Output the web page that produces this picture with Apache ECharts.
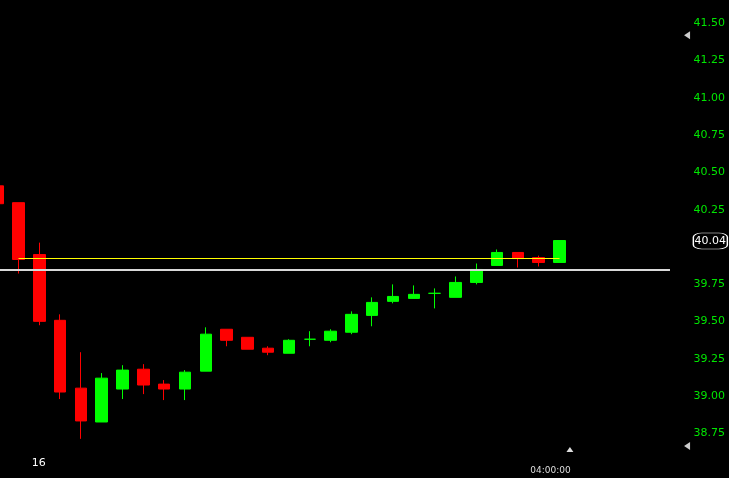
<!DOCTYPE html>
<html>
<head>
<meta charset="utf-8">
<script src="https://cdn.jsdelivr.net/npm/echarts@6/dist/echarts.min.js"></script>
<style>
html,body{margin:0;padding:0;background:#000;}
#c{width:729px;height:478px;}
</style>
</head>
<body>
<div id="c"></div>
<script>
// ---- data ----
const opens  = [40.410, 40.297, 39.949, 39.508, 39.053, 38.826, 39.047, 39.180, 39.080, 39.047,
                39.167, 39.448, 39.394, 39.321, 39.287, 39.381, 39.374, 39.428, 39.541, 39.635,
                39.655, 39.689, 39.662, 39.762, 39.876, 39.963, 39.929, 39.896];
const closes = [40.290, 39.916, 39.501, 39.027, 38.833, 39.120, 39.174, 39.074, 39.047, 39.160,
                39.415, 39.374, 39.314, 39.294, 39.374, 39.381, 39.435, 39.548, 39.628, 39.668,
                39.682, 39.689, 39.762, 39.849, 39.963, 39.922, 39.896, 40.043];
const lows   = [40.290, 39.822, 39.475, 38.980, 38.713, 38.826, 38.980, 39.013, 38.973, 38.973,
                39.167, 39.334, 39.314, 39.274, 39.287, 39.334, 39.361, 39.415, 39.468, 39.622,
                39.655, 39.588, 39.662, 39.749, 39.876, 39.862, 39.869, 39.896];
const highs  = [40.410, 40.297, 40.029, 39.548, 39.294, 39.154, 39.207, 39.214, 39.107, 39.174,
                39.461, 39.448, 39.394, 39.334, 39.381, 39.435, 39.448, 39.568, 39.662, 39.749,
                39.742, 39.722, 39.802, 39.889, 39.983, 39.963, 39.942, 40.043];
const priceTicks = [41.50, 41.25, 41.00, 40.75, 40.50, 40.25, 39.75, 39.50, 39.25, 39.00, 38.75];
const lastPrice = 40.04;
const bidLine = 39.849;      // white horizontal line
const avgLine = 39.923;      // yellow line
const avgFrom = 1, avgTo = 27;
const dayLabel = '16';
const timeLabel = '04:00:00';

const candles = opens.map((o, i) => [i, o, closes[i], lows[i], highs[i]]);

const xMin = 0.11, xMax = 35.146, plotEnd = 32.31;

const chart = echarts.init(document.getElementById('c'), null, {renderer: 'canvas'});
const FONT = 'DejaVu Sans';

chart.setOption({
  backgroundColor: '#000',
  animation: false,
  grid: {left: 0, right: 0, top: 0, bottom: 7.4},
  xAxis: {
    type: 'value', min: xMin, max: xMax,
    axisLine: {show: false}, axisTick: {show: false},
    axisLabel: {show: false}, splitLine: {show: false}
  },
  yAxis: {
    type: 'value', position: 'right', min: 38.5, max: 41.6563, interval: 0.25,
    axisLine: {show: false}, axisTick: {show: false}, splitLine: {show: false},
    axisLabel: {
      inside: true, margin: 4, color: '#00e600', fontSize: 11, fontFamily: FONT,
      formatter: v => priceTicks.some(t => Math.abs(t - v) < 1e-6) ? v.toFixed(2) : ''
    }
  },
  series: [{
    type: 'candlestick',
    layout: 'horizontal',
    barWidth: 12,
    data: candles,
    itemStyle: {
      color: '#00ff00', color0: '#ff0000',
      borderColor: '#00ff00', borderColor0: '#ff0000', borderWidth: 1
    },
    markLine: {
      silent: true, symbol: ['none', 'none'], animation: false,
      label: {show: false},
      data: [
        [{coord: [xMin, bidLine]}, {coord: [plotEnd, bidLine]}],
        [{coord: [avgFrom, avgLine], lineStyle: {color: '#ffff00', width: 1, type: 'solid'}},
         {coord: [avgTo, avgLine]}]
      ],
      lineStyle: {color: '#d9d9d9', width: 2, type: 'solid'}
    },
    markPoint: {
      silent: true, animation: false,
      data: [
        {coord: [34.25, lastPrice], symbol: 'roundRect', symbolSize: [34, 16],
         itemStyle: {color: '#000', borderColor: '#fff', borderWidth: 1},
         label: {show: true, position: 'inside', formatter: lastPrice.toFixed(2),
                 color: '#fff', fontSize: 11, fontFamily: FONT}},
        {coord: [33.13, 41.42], symbol: 'triangle', symbolSize: [8, 6], symbolRotate: 90,
         itemStyle: {color: '#cccccc'}, label: {show: false}},
        {coord: [33.13, 38.665], symbol: 'triangle', symbolSize: [8, 6], symbolRotate: 90,
         itemStyle: {color: '#cccccc'}, label: {show: false}},
        {coord: [27.50, 38.641], symbol: 'triangle', symbolSize: [7, 5],
         itemStyle: {color: '#dddddd'}, label: {show: false}},
        {coord: [1.97, 38.551], symbol: 'circle', symbolSize: 0,
         label: {show: true, position: 'inside', formatter: dayLabel, color: '#fff',
                 fontSize: 11, fontFamily: FONT}},
        {coord: [26.57, 38.511], symbol: 'circle', symbolSize: 0,
         label: {show: true, position: 'inside', offset: [0, 2], formatter: timeLabel,
                 color: '#dddddd', fontSize: 9, fontFamily: FONT}}
      ]
    }
  }]
});
</script>
</body>
</html>
